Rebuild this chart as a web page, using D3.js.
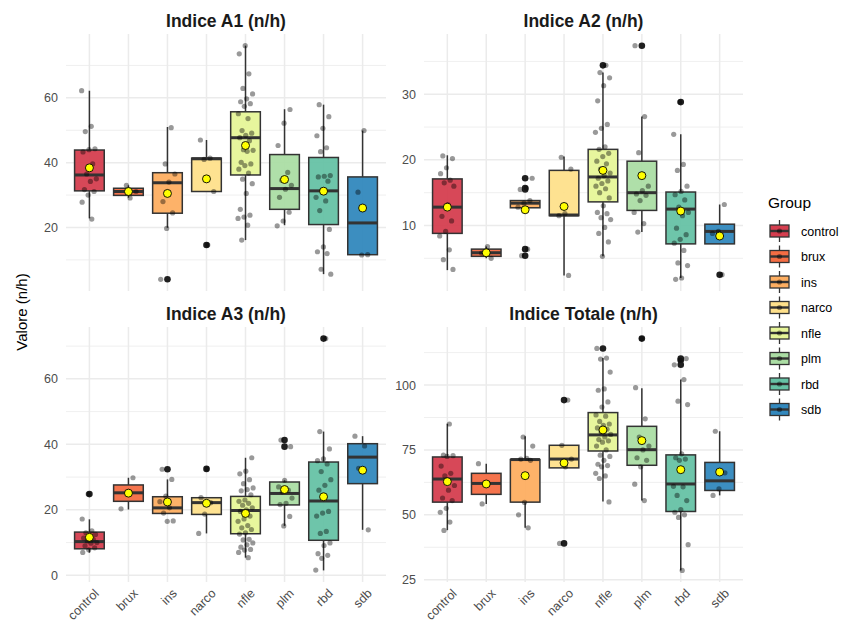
<!DOCTYPE html>
<html>
<head>
<meta charset="utf-8">
<script src="https://cdn.jsdelivr.net/npm/d3@7"></script>
<style>
  body { margin: 0; background: #fff; }
  text { font-family: "Liberation Sans", Arial, sans-serif; }
</style>
</head>
<body>
<svg id="chart" width="842" height="626"></svg>
<script>
// groups and colours (Spectral)
const groups = ["control", "brux", "ins", "narco", "nfle", "plm", "rbd", "sdb"]
const groupColors = ["#D53E4F", "#F46D43", "#FDAE61", "#FEE08B", "#E6F598", "#ABDDA4", "#66C2A5", "#3288BD"]
const panelTitles = ["Indice A1 (n/h)", "Indice A2 (n/h)", "Indice A3 (n/h)", "Indice Totale (n/h)"]

// box stats per group: [whisker low, q1, median, q3, whisker high]
const a1Stats = [[22.8, 31.3, 36.2, 43.9, 62.2], [29.2, 29.9, 31.1, 32.1, 33.0], [19.9, 24.4, 33.8, 36.9, 51.0], [31.1, 31.1, 41.2, 41.4, 47.0],
  [16.1, 36.2, 47.7, 55.7, 76.1], [20.7, 25.6, 32.0, 42.5, 56.5], [5.6, 20.9, 31.3, 41.6, 57.9], [11.6, 11.6, 21.4, 35.6, 49.9]]
const a1Means = [38.4, 31.1, 30.5, 35.0, 45.3, 34.8, 31.2, 26.0]
const a1Outliers = [[], [], [4.0], [14.6], [], [], [], []]
const a1Points = [
  [62.2, 51.2, 49.6, 44.3, 44.0, 43.3, 39.6, 36.5, 35.0, 34.2, 31.7, 31.1, 30.0, 27.8, 22.6],
  [33.0, 31.1, 29.1],
  [50.8, 39.6, 36.5, 34.0, 28.0, 24.5, 19.7, 4.0],
  [47.0, 41.4, 41.0, 31.1, 14.6],
  [76.1, 73.6, 67.4, 62.9, 61.2, 59.7, 58.8, 58.2, 57.4, 55.1, 53.6, 49.9, 49.1, 48.4, 47.7, 46.8, 44.0, 43.8, 43.5, 40.1, 39.6, 39.1, 38.0, 36.8, 34.9, 33.5, 30.5, 25.6, 23.8, 23.2, 22.8, 20.7, 16.1],
  [56.4, 52.2, 45.3, 37.0, 34.6, 33.0, 31.8, 29.3, 24.7, 22.0, 20.5],
  [57.9, 54.2, 50.6, 48.3, 44.6, 43.4, 36.0, 35.8, 35.6, 34.3, 31.5, 29.3, 28.2, 25.2, 19.4, 14.0, 12.5, 11.9, 7.1, 5.6],
  [49.9, 30.9, 11.6, 11.5]
]
const a1Ticks = [20, 40, 60]

const a2Stats = [[3.2, 8.8, 12.8, 17.1, 20.7], [5.0, 5.3, 5.85, 6.4, 6.8], [12.7, 12.7, 13.4, 13.8, 13.8], [2.4, 11.5, 11.6, 18.4, 20.5],
  [5.3, 13.6, 17.4, 21.6, 33.3], [9.0, 12.3, 15.0, 19.8, 26.6], [2.0, 7.2, 12.5, 15.1, 23.9], [7.2, 7.2, 9.1, 10.2, 13.2]]
const a2Means = [12.8, 5.85, 12.4, 12.9, 18.4, 17.6, 12.2, 8.4]
const a2Outliers = [[], [], [17.2, 15.7, 15.5, 6.4, 5.4], [], [34.4], [37.4], [28.8], [2.5]]
const a2Points = [
  [20.6, 20.2, 18.8, 17.9, 16.9, 16.5, 16.0, 13.2, 11.4, 10.7, 9.1, 8.4, 6.3, 4.8, 3.3],
  [6.8, 5.8, 5.0],
  [17.2, 15.7, 15.5, 13.8, 13.4, 12.8, 6.4, 5.4],
  [20.4, 18.6, 11.8, 11.5, 2.4],
  [34.4, 33.3, 32.5, 31.3, 29.0, 25.4, 24.8, 24.2, 22.0, 21.6, 21.0, 20.5, 19.8, 19.4, 18.6, 18.0, 17.6, 17.2, 16.8, 16.4, 16.0, 15.6, 15.0, 14.2, 13.0, 12.0, 11.8, 11.2, 10.9, 9.7, 8.8, 7.5, 5.3],
  [37.4, 26.6, 21.1, 16.0, 15.3, 14.8, 14.6, 13.8, 12.0, 10.3, 9.0],
  [28.8, 23.9, 19.3, 18.4, 16.0, 15.2, 14.7, 13.9, 12.8, 12.0, 11.5, 9.6, 8.6, 7.9, 7.3, 6.2, 4.3, 3.9, 2.0, 1.8],
  [13.2, 9.1, 8.8, 2.5]
]
const a2Ticks = [10, 20, 30]

const a3Stats = [[6.9, 8.1, 10.3, 13.2, 17.1], [20.1, 22.6, 25.2, 27.6, 29.8], [18.9, 18.9, 20.6, 24.0, 29.3], [12.8, 18.6, 22.2, 23.7, 23.7],
  [5.4, 12.7, 19.8, 24.1, 35.9], [15.1, 21.5, 25.0, 28.5, 29.0], [1.5, 10.7, 22.7, 34.6, 43.9], [13.9, 28.0, 36.1, 40.2, 42.5]]
const a3Means = [11.6, 25.1, 22.4, 22.0, 18.9, 26.2, 24.0, 32.1]
const a3Outliers = [[24.8], [], [32.4], [32.5], [], [41.3, 39.3], [72.3], []]
const a3Points = [
  [24.8, 17.2, 13.6, 13.0, 12.5, 11.8, 11.4, 11.0, 10.5, 10.0, 9.8, 9.0, 8.4, 7.8, 7.0],
  [29.8, 25.2, 20.3],
  [32.4, 29.3, 24.2, 22.5, 20.6, 19.0, 16.6, 16.5],
  [32.5, 23.7, 22.2, 18.7, 12.8],
  [35.9, 31.8, 31.0, 29.2, 28.0, 26.7, 26.2, 25.8, 24.6, 23.0, 22.6, 22.0, 21.4, 20.6, 20.0, 19.5, 18.1, 17.2, 16.5, 15.2, 14.5, 14.0, 13.0, 12.6, 11.0, 10.8, 9.9, 9.3, 8.6, 7.9, 7.7, 7.0, 5.4],
  [41.3, 39.3, 29.0, 27.0, 26.0, 25.5, 23.6, 22.0, 21.6, 18.0, 15.1],
  [72.3, 43.9, 38.6, 35.6, 35.0, 34.0, 31.7, 29.2, 27.5, 26.0, 19.5, 19.0, 18.1, 13.4, 12.8, 9.9, 9.1, 6.6, 6.1, 5.2, 1.6],
  [42.5, 39.5, 32.7, 13.9]
]
const a3Ticks = [0, 20, 40, 60]

const totStats = [[44.1, 54.9, 63.8, 72.3, 85.1], [54.2, 57.9, 62.1, 66.0, 69.7], [45.0, 54.9, 71.3, 71.3, 80.3], [68.1, 68.1, 71.5, 76.8, 76.8],
  [55.1, 74.6, 80.8, 89.4, 110.4], [55.5, 69.1, 75.1, 84.1, 98.8], [28.6, 51.3, 61.9, 73.1, 102.1], [57.5, 59.4, 63.1, 70.2, 82.2]]
const totMeans = [62.8, 61.9, 65.1, 70.0, 82.7, 78.6, 67.4, 66.5]
const totOutliers = [[], [], [], [94.2, 39.0], [114.1], [117.9], [110.2, 109.6, 107.8], []]
const totPoints = [
  [85.0, 73.0, 72.8, 72.5, 68.8, 66.0, 65.0, 61.3, 59.5, 56.5, 55.5, 52.5, 51.0, 47.2, 44.0],
  [69.7, 62.1, 54.2],
  [80.0, 76.5, 71.8, 71.5, 71.0, 54.8, 50.0, 45.0],
  [94.2, 76.8, 71.5, 68.5, 39.0],
  [114.1, 110.4, 110.0, 105.0, 98.5, 98.0, 93.5, 91.5, 88.5, 88.0, 86.0, 85.0, 84.5, 83.5, 83.0, 82.0, 81.0, 80.0, 79.0, 78.5, 78.0, 76.5, 75.0, 73.0, 72.5, 71.0, 69.5, 69.0, 68.5, 66.0, 65.0, 64.0, 55.0],
  [117.9, 99.0, 87.0, 80.0, 76.5, 75.0, 72.0, 71.0, 68.5, 61.8, 55.5],
  [110.2, 109.6, 107.8, 102.1, 93.8, 92.5, 73.5, 72.0, 71.5, 71.0, 61.0, 60.8, 57.5, 55.5, 52.0, 51.0, 50.0, 49.0, 38.5, 28.6],
  [82.2, 66.2, 60.0, 57.5]
]
const totTicks = [25, 50, 75, 100]

const panels = [
  { title: panelTitles[0], stats: a1Stats, means: a1Means, outliers: a1Outliers, points: a1Points, ticks: a1Ticks, col: 0, row: 0 },
  { title: panelTitles[1], stats: a2Stats, means: a2Means, outliers: a2Outliers, points: a2Points, ticks: a2Ticks, col: 1, row: 0 },
  { title: panelTitles[2], stats: a3Stats, means: a3Means, outliers: a3Outliers, points: a3Points, ticks: a3Ticks, col: 0, row: 1 },
  { title: panelTitles[3], stats: totStats, means: totMeans, outliers: totOutliers, points: totPoints, ticks: totTicks, col: 1, row: 1 },
]

// layout
const cols = [[66, 386], [424, 743]]
const rows = [[34, 291], [327, 582]]
const boxWidth = 0.76
const jitterWidth = 0.2

const svg = d3.select("#chart")
svg.append("rect").attr("width", 842).attr("height", 626).attr("fill", "#fff")

panels.forEach((p, pi) => {
  const [x0, x1] = cols[p.col]
  const [y0, y1] = rows[p.row]

  const xScale = d3.scalePoint()
    .domain(groups)
    .range([x0, x1])
    .padding(0.6)
  const step = xScale.step()

  const allVals = p.points.flat().concat(p.stats.flat(), p.means, p.outliers.flat())
  const [vmin, vmax] = d3.extent(allVals)
  const pad = (vmax - vmin) * 0.05
  const yScale = d3.scaleLinear()
    .domain([vmin - pad, vmax + pad])
    .range([y1, y0])

  const g = svg.append("g")

  // minor grid
  const tStep = p.ticks[1] - p.ticks[0]
  const minors = d3.range(p.ticks[0] - tStep / 2, p.ticks[p.ticks.length - 1] + tStep, tStep)
    .filter(v => v >= yScale.domain()[0] && v <= yScale.domain()[1])
  g.selectAll(".minor").data(minors).join("line")
    .attr("x1", x0).attr("x2", x1)
    .attr("y1", d => yScale(d)).attr("y2", d => yScale(d))
    .attr("stroke", "#EBEBEB").attr("stroke-width", 0.8)

  // major grid
  g.selectAll(".major").data(p.ticks).join("line")
    .attr("x1", x0).attr("x2", x1)
    .attr("y1", d => yScale(d)).attr("y2", d => yScale(d))
    .attr("stroke", "#EBEBEB").attr("stroke-width", 1.5)
  g.selectAll(".vgrid").data(groups).join("line")
    .attr("x1", d => xScale(d)).attr("x2", d => xScale(d))
    .attr("y1", y0).attr("y2", y1)
    .attr("stroke", "#EBEBEB").attr("stroke-width", 1.5)

  // y tick labels
  g.selectAll(".ylab").data(p.ticks).join("text")
    .attr("x", x0 - 8)
    .attr("y", d => yScale(d))
    .attr("dy", "0.36em")
    .attr("text-anchor", "end")
    .attr("fill", "#4D4D4D")
    .style("font-size", "12.5px")
    .text(d => d)

  // title
  g.append("text")
    .attr("x", (x0 + x1) / 2)
    .attr("y", y0 - 7.5)
    .attr("text-anchor", "middle")
    .attr("fill", "#1A1A1A")
    .style("font-size", "17.5px")
    .style("font-weight", "bold")
    .text(p.title)

  // x labels only on bottom row
  if (p.row === 1) {
    g.selectAll(".xlab").data(groups).join("text")
      .attr("transform", d => `translate(${xScale(d) + 4},${y1 + 6}) rotate(-45)`)
      .attr("dy", "0.7em")
      .attr("text-anchor", "end")
      .attr("fill", "#4D4D4D")
      .style("font-size", "12.5px")
      .text(d => d)
  }

  // boxplots
  const bw = boxWidth * step
  groups.forEach((grp, gi) => {
    const [lo, q1, med, q3, hi] = p.stats[gi]
    const cx = xScale(grp)
    const bg = g.append("g")
    bg.append("line")
      .attr("x1", cx).attr("x2", cx)
      .attr("y1", yScale(hi)).attr("y2", yScale(q3))
      .attr("stroke", "#333333").attr("stroke-width", 1.5)
    bg.append("line")
      .attr("x1", cx).attr("x2", cx)
      .attr("y1", yScale(q1)).attr("y2", yScale(lo))
      .attr("stroke", "#333333").attr("stroke-width", 1.5)
    bg.append("rect")
      .attr("x", cx - bw / 2)
      .attr("width", bw)
      .attr("y", yScale(q3))
      .attr("height", yScale(q1) - yScale(q3))
      .attr("fill", groupColors[gi])
      .attr("fill-opacity", 0.95)
      .attr("stroke", "#333333")
      .attr("stroke-width", 1.5)
    bg.append("line")
      .attr("x1", cx - bw / 2).attr("x2", cx + bw / 2)
      .attr("y1", yScale(med)).attr("y2", yScale(med))
      .attr("stroke", "#333333").attr("stroke-width", 3)
    bg.selectAll(".out").data(p.outliers[gi]).join("circle")
      .attr("cx", cx)
      .attr("cy", d => yScale(d))
      .attr("r", 3.3)
      .attr("fill", "#1F1F1F")
  })

  // jittered points
  groups.forEach((grp, gi) => {
    const cx = xScale(grp)
    g.selectAll(null).data(p.points[gi]).join("circle")
      .attr("cx", (d, k) => cx + (((k * 0.618034 + gi * 0.37 + pi * 0.21) % 1) - 0.5) * 2 * jitterWidth * step)
      .attr("cy", d => yScale(d))
      .attr("r", 2.6)
      .attr("fill", "#000")
      .attr("fill-opacity", 0.4)
  })

  // means
  g.selectAll(".mean").data(p.means).join("circle")
    .attr("cx", (d, i) => xScale(groups[i]))
    .attr("cy", d => yScale(d))
    .attr("r", 4)
    .attr("fill", "#FFFF00")
    .attr("stroke", "#000")
    .attr("stroke-width", 0.9)
})

// y axis title
svg.append("text")
  .attr("transform", "translate(27,312) rotate(-90)")
  .attr("text-anchor", "middle")
  .attr("fill", "#000")
  .style("font-size", "15px")
  .text("Valore (n/h)")

// legend
const legend = svg.append("g")
legend.append("text")
  .attr("x", 768).attr("y", 208)
  .attr("fill", "#000")
  .style("font-size", "15.5px")
  .text("Group")

const legendY = d3.scalePoint().domain(groups).range([231, 409.5])
groups.forEach((grp, gi) => {
  const cy = legendY(grp)
  const item = legend.append("g")
  item.append("line")
    .attr("x1", 779.5).attr("x2", 779.5)
    .attr("y1", cy - 11).attr("y2", cy + 11)
    .attr("stroke", "#333333").attr("stroke-width", 1.3)
  item.append("rect")
    .attr("x", 770).attr("y", cy - 6)
    .attr("width", 19).attr("height", 12)
    .attr("fill", groupColors[gi])
    .attr("stroke", "#333333").attr("stroke-width", 1.3)
  item.append("line")
    .attr("x1", 770).attr("x2", 789)
    .attr("y1", cy).attr("y2", cy)
    .attr("stroke", "#333333").attr("stroke-width", 2.4)
  item.append("circle")
    .attr("cx", 779.5).attr("cy", cy)
    .attr("r", 2.6)
    .attr("fill", "#000").attr("fill-opacity", 0.4)
  item.append("text")
    .attr("x", 801).attr("y", cy)
    .attr("dy", "0.36em")
    .attr("fill", "#000")
    .style("font-size", "12.5px")
    .text(grp)
})
</script>
</body>
</html>
